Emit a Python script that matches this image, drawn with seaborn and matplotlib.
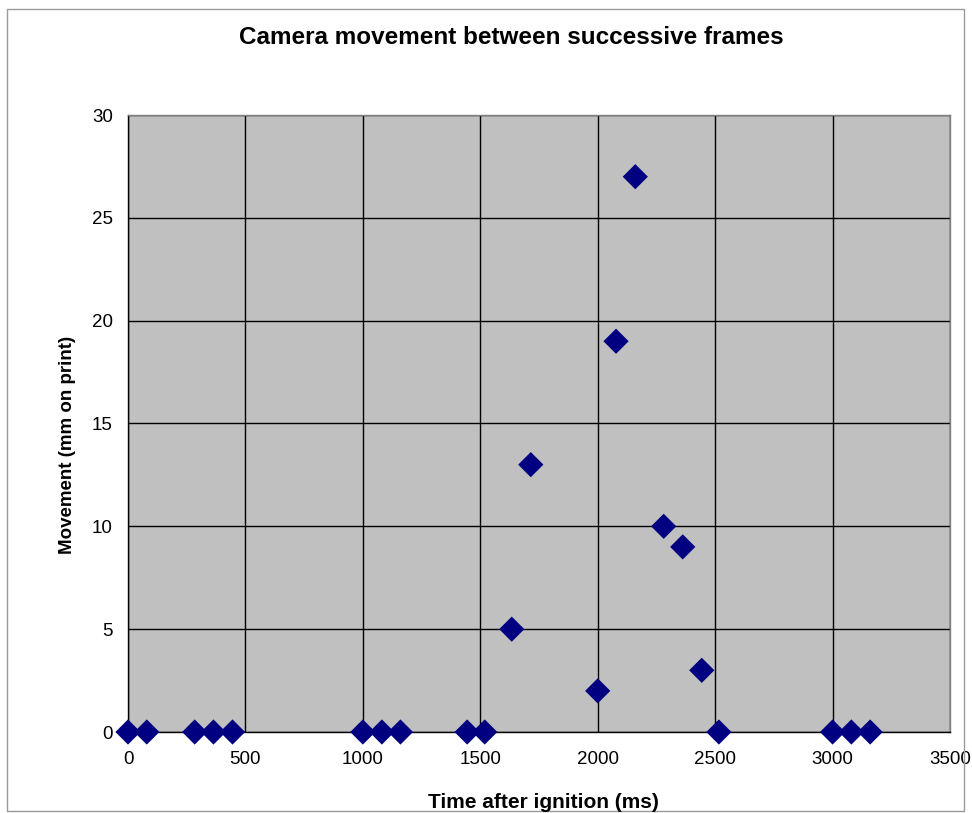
import matplotlib
matplotlib.use("Agg")
import matplotlib.pyplot as plt
import seaborn as sns
import pandas as pd
from matplotlib.patches import Rectangle

# Frame-to-frame camera shift, measured on the printed frames
time_ms = [0, 80, 284, 364, 445, 1000, 1081, 1160, 1444, 1519, 1634, 1715,
           2000, 2078, 2160, 2281, 2362, 2443, 2516, 3000, 3080, 3160]
movement_mm = [0, 0, 0, 0, 0, 0, 0, 0, 0, 0, 5, 13,
               2, 19, 27, 10, 9, 3, 0, 0, 0, 0]
x_ticks = [0, 500, 1000, 1500, 2000, 2500, 3000, 3500]
y_ticks = [0, 5, 10, 15, 20, 25, 30]

title = "Camera movement between successive frames"
x_label = "Time after ignition (ms)"
y_label = "Movement (mm on print)"

sns.set_style("white", {"text.color": "black", "axes.labelcolor": "black",
                        "xtick.color": "black", "ytick.color": "black"})
plt.rcParams["font.family"] = ["Liberation Sans", "DejaVu Sans"]

W, H = 972, 813
fig = plt.figure(figsize=(W / 100, H / 100), dpi=100)
fig.patch.set_facecolor("white")

# chart border
fig.patches.append(Rectangle((7 / W, 1 - 811 / H), (964 - 7) / W, (811 - 9) / H,
                             transform=fig.transFigure, fill=False,
                             edgecolor="#9a9a9a", linewidth=1.0))

ax = fig.add_axes([128 / W, 1 - 732 / H, (950 - 128) / W, (732 - 115) / H])
ax.set_facecolor("#c0c0c0")

df = pd.DataFrame({"time": time_ms, "movement": movement_mm})
sns.scatterplot(data=df, x="time", y="movement", ax=ax, marker="D", s=165,
                color="#000080", edgecolor="none", linewidth=0,
                clip_on=False, zorder=4)

ax.set_xlim(0, 3500)
ax.set_ylim(0, 30)
ax.set_xticks(x_ticks)
ax.set_yticks(y_ticks)
ax.set_xticklabels([str(v) for v in x_ticks])
ax.set_yticklabels([str(v) for v in y_ticks])
ax.set_axisbelow(True)
ax.grid(True, color="black", linewidth=1.0)
ax.tick_params(axis="both", direction="out", length=5, width=1.0,
               color="black", labelsize=13.5, labelcolor="black")
ax.tick_params(axis="x", pad=9)
ax.tick_params(axis="y", pad=6)

for side in ("left", "bottom"):
    ax.spines[side].set_color("black")
    ax.spines[side].set_linewidth(1.0)
for side in ("top", "right"):
    ax.spines[side].set_color("#808080")
    ax.spines[side].set_linewidth(1.0)

ax.set_xlabel("")
ax.set_ylabel("")

fig.text(511 / W, 1 - 38 / H, title, ha="center", va="center",
         fontsize=17.5, fontweight="bold", color="black")
fig.text(543 / W, 1 - 802 / H, x_label, ha="center", va="center",
         fontsize=15, fontweight="bold", color="black")
fig.text(68 / W, 1 - 445 / H, y_label, ha="center", va="center",
         rotation=90, fontsize=13.5, fontweight="bold", color="black")

fig.savefig("out.png", dpi=100)
